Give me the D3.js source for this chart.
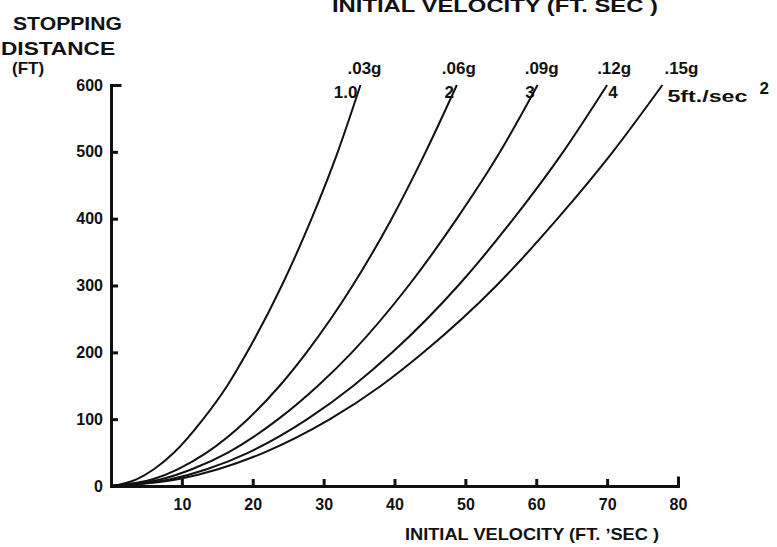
<!DOCTYPE html>
<html lang="en">
<head>
	<meta charset="UTF-8">
	<title>Stopping Distance vs Initial Velocity</title>
	<script src="https://cdn.jsdelivr.net/npm/d3@7"></script>
	<style>
	body {
		margin: 0;
		background-color: #ffffff;
	}
	svg text {
		font-family: "Liberation Sans", Arial, sans-serif;
		font-weight: bold;
		fill: #111;
	}
	.axis path, .axis line {
		stroke: #111;
		stroke-width: 3px;
	}
	.curve {
		fill: none;
		stroke: #111;
		stroke-width: 2px;
	}
	</style>
</head>
<body>
<script>
	var distances = [0, 10, 25, 50, 100, 150, 200, 300, 400, 500, 600];

	// initial velocity (ft/sec) read for each deceleration curve
	var vel1 = [0, 3.6, 6.05, 8.9, 13.0, 16.4, 19.2, 24.1, 28.3, 32.0, 35.2];
	var vel2 = [0, 5.9, 9.4, 13.5, 19.3, 23.8, 27.6, 34.1, 39.6, 44.4, 48.8];
	var vel3 = [0, 7.1, 11.4, 16.5, 23.6, 29.2, 34.0, 42.0, 48.8, 54.9, 60.2];
	var vel4 = [0, 8.4, 13.5, 19.4, 27.7, 34.2, 39.7, 49.0, 56.8, 63.8, 70];
	var vel5 = [0, 9.4, 15.1, 21.6, 30.9, 38.1, 44.1, 54.4, 63.0, 70.8, 77.8];

	var decelLabels = ['1.0', '2', '3', '4', '5ft./sec'];
	var gLabels = ['.03g', '.06g', '.09g', '.12g', '.15g'];

	var xTicks = [10, 20, 30, 40, 50, 60, 70, 80];
	var yTicks = [0, 100, 200, 300, 400, 500, 600];

	var width = 777, height = 547;

	var svg = d3.select('body').append('svg')
		.attr('width', width)
		.attr('height', height);

	var x = d3.scaleLinear().domain([0, 80]).range([111, 678]);
	var y = d3.scaleLinear().domain([0, 600]).range([486, 85]);

	var series = [vel1, vel2, vel3, vel4, vel5].map(function (vs, i) {
		return {
			num: decelLabels[i],
			g: gLabels[i],
			points: vs.map(function (v, j) { return {v: v, d: distances[j]}; })
		};
	});

	var line = d3.line()
		.x(function (p) { return x(p.v); })
		.y(function (p) { return y(p.d); })
		.curve(d3.curveMonotoneX);

	svg.selectAll('.curve')
		.data(series)
		.enter()
		.append('path')
		.attr('class', 'curve')
		.attr('d', function (s) { return line(s.points); });

	// axes
	svg.append('g')
		.attr('class', 'axis')
		.attr('transform', 'translate(0,' + y(0) + ')')
		.call(d3.axisBottom(x)
			.tickValues(xTicks)
			.tickSizeInner(-7)
			.tickSizeOuter(-8)
			.tickPadding(13));

	svg.append('g')
		.attr('class', 'axis')
		.attr('transform', 'translate(' + x(0) + ',0)')
		.call(d3.axisLeft(y)
			.tickValues(yTicks)
			.tickSizeInner(-7)
			.tickSizeOuter(-9)
			.tickPadding(8));

	svg.selectAll('.axis')
		.attr('font-family', null)
		.attr('font-size', null);
	svg.selectAll('.axis text')
		.style('font-size', '16px');
	svg.selectAll('.axis path')
		.attr('stroke-linecap', 'square');

	// curve end labels
	var gShift = [-13, -15, -13, -10, 2];
	series.forEach(function (s, i) {
		var last = s.points[s.points.length - 1];
		var tx = x(last.v), ty = y(last.d);

		svg.append('text')
			.attr('x', tx + gShift[i])
			.attr('y', ty - 11)
			.style('font-size', '17px')
			.text(s.g);

		var num = svg.append('text')
			.attr('y', ty + 13)
			.style('font-size', '17px');
		if (i < 3) {
			num.attr('x', tx - 3).attr('text-anchor', 'end').text(s.num);
		} else if (i === 3) {
			num.attr('x', tx + 1).text(s.num);
		} else {
			num.attr('x', tx + 5).attr('y', ty + 17)
				.attr('textLength', 80)
				.attr('lengthAdjust', 'spacingAndGlyphs')
				.text(s.num);
			svg.append('text')
				.attr('x', tx + 97)
				.attr('y', ty + 9)
				.style('font-size', '17px')
				.text('2');
		}
	});

	// y axis title
	var yTitle = svg.append('text')
		.style('font-size', '19px');
	yTitle.append('tspan').attr('x', 13).attr('y', 30)
		.attr('textLength', 109).attr('lengthAdjust', 'spacingAndGlyphs').text('STOPPING');
	yTitle.append('tspan').attr('x', 1).attr('y', 55)
		.attr('textLength', 114).attr('lengthAdjust', 'spacingAndGlyphs').text('DISTANCE');
	yTitle.append('tspan').attr('x', 12).attr('y', 74).style('font-size', '17px').text('(FT)');

	// x axis title (bottom) and the clipped copy at the top
	svg.append('text')
		.attr('x', 405)
		.attr('y', 540)
		.style('font-size', '17px')
		.attr('textLength', 254)
		.attr('lengthAdjust', 'spacingAndGlyphs')
		.text('INITIAL VELOCITY (FT. \u02BCSEC )');

	svg.append('text')
		.attr('x', 332)
		.attr('y', 12)
		.style('font-size', '18px')
		.attr('textLength', 326)
		.attr('lengthAdjust', 'spacingAndGlyphs')
		.text('INITIAL VELOCITY (FT.  SEC )');
</script>
</body>
</html>
